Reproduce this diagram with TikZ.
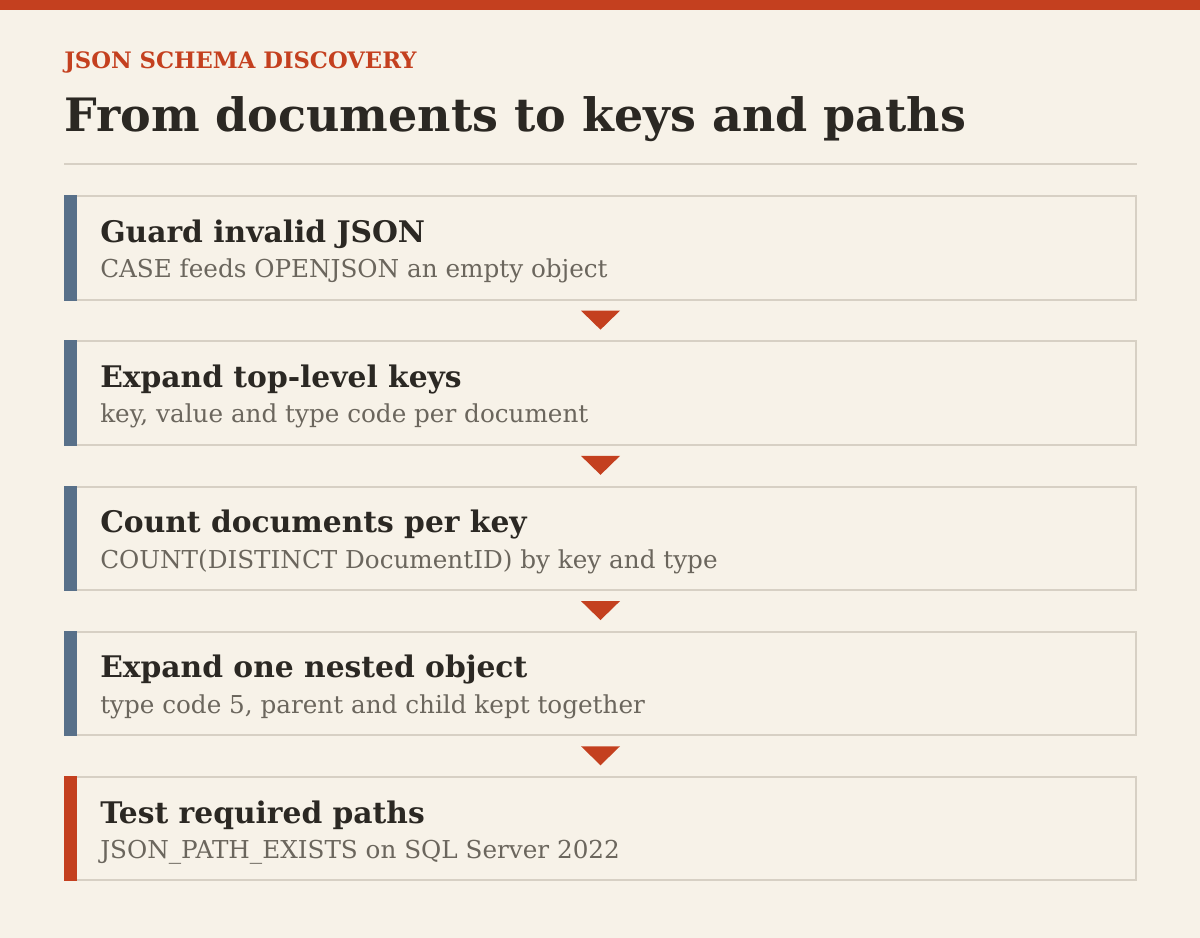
\documentclass[tikz,border=0pt]{standalone}
\usepackage{fontspec}
\setmainfont{DejaVu Serif}
\usetikzlibrary{calc}
\usetikzlibrary{positioning}
\definecolor{paper}{HTML}{F7F2E8}
\definecolor{rust}{HTML}{C4401F}
\definecolor{slate}{HTML}{587089}
\definecolor{rim}{HTML}{D7D0C4}
\definecolor{ink}{HTML}{2B2823}
\definecolor{muted}{HTML}{6B665D}
\tikzset{
  stage/.style={rectangle, draw=rim, line width=1.5pt, minimum width=803.25pt, minimum height=77.6pt, inner sep=0pt},
  head/.style={anchor=base west, inner sep=0pt, text=ink, font=\bfseries\fontsize{22.3}{26}\selectfont},
  note/.style={anchor=base west, inner sep=0pt, text=muted, font=\fontsize{18.5}{22}\selectfont},
  marker/.style={fill=rust}
  }

\begin{document}
\begin{tikzpicture}[x=0.75pt, y=-0.75pt, node distance=29.8pt]
	% Frame
	\fill[paper] (0,0) rectangle (1200,938);
	\useasboundingbox (0,0) rectangle (1200,938);
	\fill[rust] (0,0) rectangle (1200,10);
	\node[anchor=base west, inner sep=0pt, text=rust, font=\bfseries\fontsize{17}{20}\selectfont] (kicker) at (64,69) {JSON SCHEMA DISCOVERY};
	\node[anchor=base west, inner sep=0pt, text=ink, font=\bfseries\fontsize{34.5}{40}\selectfont] (title) at (64,132) {From documents to keys and paths};
	\draw[rim, line width=1.5pt] (64,164.5) -- (1137,164.5);

	% Nodes
	\node[stage, anchor=north west] (guard) at (64,195.2) {};
	\node[stage, below = of guard] (expand) {};
	\node[stage, below = of expand] (count) {};
	\node[stage, below = of count] (nested) {};
	\node[stage, below = of nested] (test) {};

	% Bars
	\fill[slate] (guard.north west) rectangle ($(guard.south west)+(13,0)$);
	\fill[slate] (expand.north west) rectangle ($(expand.south west)+(13,0)$);
	\fill[slate] (count.north west) rectangle ($(count.south west)+(13,0)$);
	\fill[slate] (nested.north west) rectangle ($(nested.south west)+(13,0)$);
	\fill[rust] (test.north west) rectangle ($(test.south west)+(13,0)$);

	% Labels
	\node[head] (guardhead) at ($(guard.north west)+(36,47)$) {Guard invalid JSON};
	\node[note] (guardnote) at ($(guard.north west)+(36,82.5)$) {CASE feeds OPENJSON an empty object};
	\node[head] (expandhead) at ($(expand.north west)+(36,47)$) {Expand top-level keys};
	\node[note] (expandnote) at ($(expand.north west)+(36,82.5)$) {key, value and type code per document};
	\node[head] (counthead) at ($(count.north west)+(36,47)$) {Count documents per key};
	\node[note] (countnote) at ($(count.north west)+(36,82.5)$) {COUNT(DISTINCT DocumentID) by key and type};
	\node[head] (nestedhead) at ($(nested.north west)+(36,47)$) {Expand one nested object};
	\node[note] (nestednote) at ($(nested.north west)+(36,82.5)$) {type code 5, parent and child kept together};
	\node[head] (testhead) at ($(test.north west)+(36,47)$) {Test required paths};
	\node[note] (testnote) at ($(test.north west)+(36,82.5)$) {JSON\_PATH\_EXISTS on SQL Server 2022};

	% Arrow
	\fill[marker] ($(guard.south)+(-19.5,10)$) -- ++(39,0) -- ($(guard.south)+(0,29)$) -- cycle;
	\fill[marker] ($(expand.south)+(-19.5,10)$) -- ++(39,0) -- ($(expand.south)+(0,29)$) -- cycle;
	\fill[marker] ($(count.south)+(-19.5,10)$) -- ++(39,0) -- ($(count.south)+(0,29)$) -- cycle;
	\fill[marker] ($(nested.south)+(-19.5,10)$) -- ++(39,0) -- ($(nested.south)+(0,29)$) -- cycle;

\end{tikzpicture}
\end{document}
